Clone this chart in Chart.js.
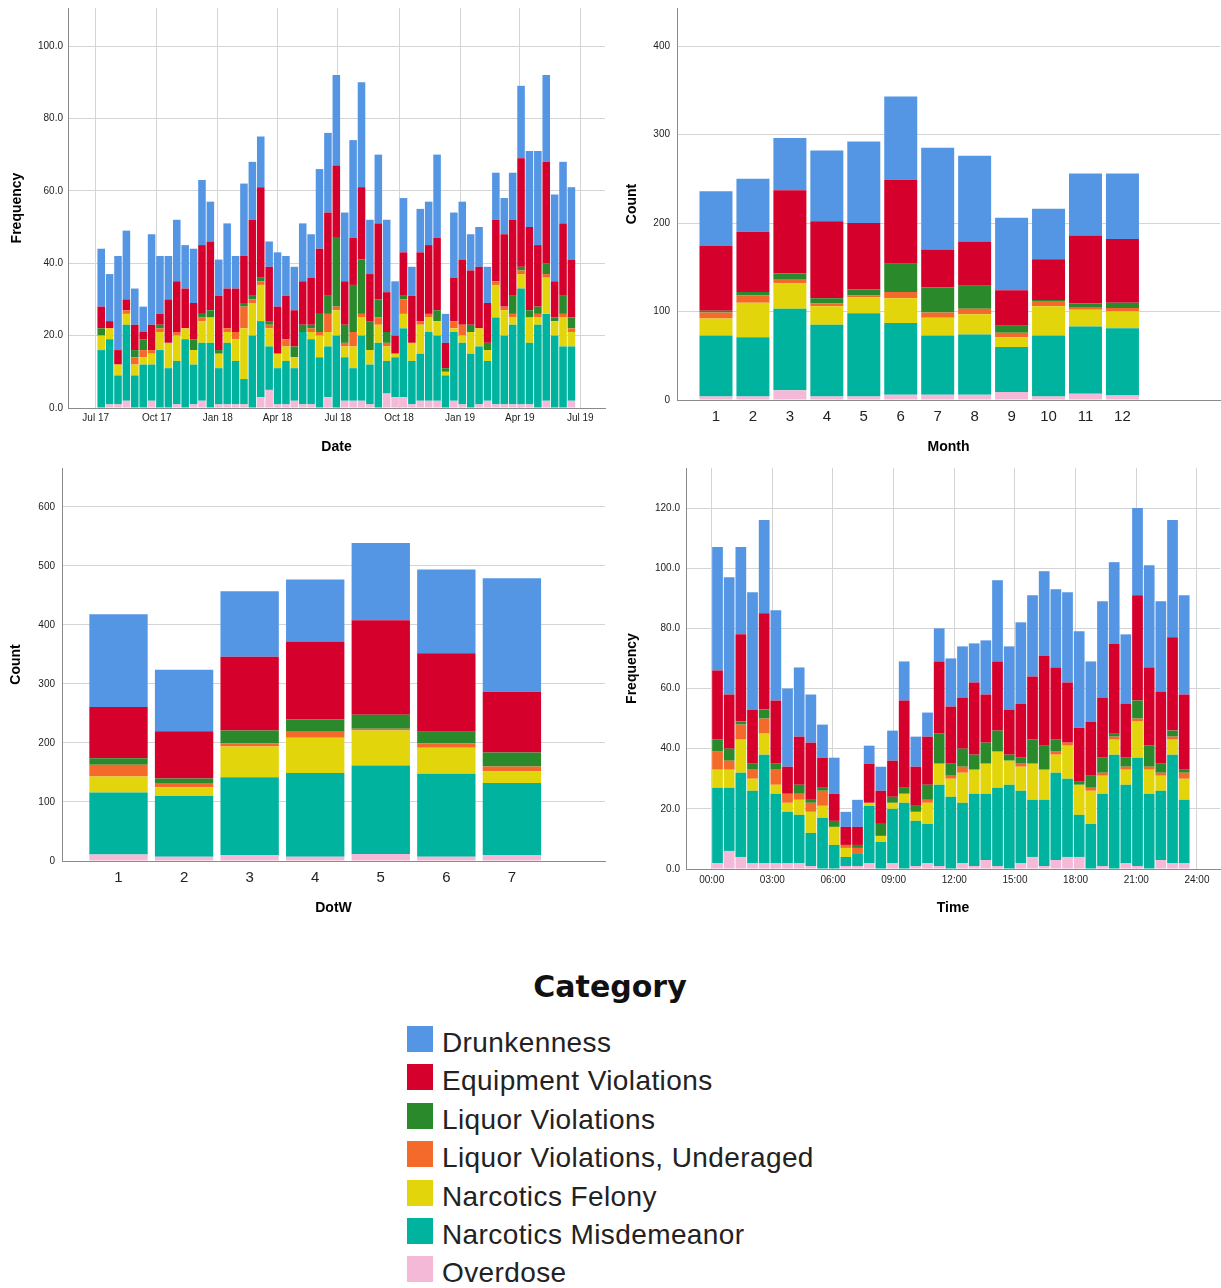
<!DOCTYPE html>
<html>
<head>
<meta charset="utf-8">
<script src="https://cdn.jsdelivr.net/npm/chart.js@4.4.1/dist/chart.umd.min.js"></script>
<style>
  body { margin:0; background:#fff; width:1221px; height:1288px; position:relative; overflow:hidden;
         font-family:"Liberation Sans", Arial, sans-serif; }
  canvas { position:absolute; }
  #legendTitle { position:absolute; left:0; width:1220px; top:969px; text-align:center;
                 font:bold 30px/36px "DejaVu Sans", sans-serif; color:#111; }
  .row { position:absolute; left:407px; height:38px; font-size:28px; line-height:38.4px;
         letter-spacing:0.4px; color:#222; white-space:nowrap; }
  .sw { position:absolute; left:0; top:2px; width:26px; height:26px; }
  .lab { position:absolute; left:35px; top:0; }
</style>
</head>
<body>
<canvas id="dateChart"  width="606" height="462" style="left:0;top:0"></canvas>
<canvas id="monthChart" width="606" height="462" style="left:615px;top:0"></canvas>
<canvas id="dowChart"   width="606" height="462" style="left:0;top:460px"></canvas>
<canvas id="timeChart"  width="606" height="462" style="left:615px;top:460px"></canvas>
<div id="legendTitle">Category</div>
<div id="legend"></div>

<script>
// --- categorias (orden de la leyenda) ---
const CATEGORIES = ['Drunkenness', 'Equipment Violations', 'Liquor Violations',
  'Liquor Violations, Underaged', 'Narcotics Felony', 'Narcotics Misdemeanor', 'Overdose'];
const COLORS = ['#5596e4', '#d5002c', '#2a8a2b', '#f36a2a', '#e2d50b', '#00b39e', '#f5b9d8'];

// --- Date: bins de ~12.65 dias desde 1 jul 2017 ---
const DATE_BIN_START = 2;
const DATE_BIN_DAYS = 12.65;
const DATE_TICK_DAYS = [0, 92, 184, 274, 365, 457, 549, 639, 730];
const DATE_TICK_LABELS = ['Jul 17', 'Oct 17', 'Jan 18', 'Apr 18', 'Jul 18', 'Oct 18', 'Jan 19', 'Apr 19', 'Jul 19'];
const dateDrunk  = [16,13,26,19,10,7,25,16,12,17, 12,15,18,11,10,18,9,20,16,14, 7,15,11,12,16,12,22,22,25,19, 27,29,15,19,20,15,15,8,12,12, 23,8,18,16,10,11,10,13,10,13, 20,21,26,24,24,17,20];
const dateEquip  = [6,2,4,3,7,2,7,3,12,14, 11,10,19,19,15,11,12,13,21,25, 15,13,12,10,12,13,18,23,20,12, 13,20,13,21,11,5,12,13,19,19, 20,7,12,18,15,17,11,17,20,21, 30,23,17,28,10,20,16];
const dateLiquor = [2,0,0,0,2,3,0,1,0,0, 0,3,1,2,1,0,0,1,1,1, 1,0,0,3,2,1,5,5,19,5, 13,15,8,5,3,0,1,0,0,0, 3,1,0,0,2,0,2,0,0,5, 1,2,2,3,1,5,3];
const dateUnder  = [0,0,0,1,2,2,1,1,0,1, 0,0,1,0,0,1,2,6,1,1, 1,0,2,0,0,1,1,5,1,1, 4,1,0,2,1,0,4,0,1,1, 0,0,2,3,0,0,0,1,1,1, 1,0,1,1,0,1,1];
const dateFelony = [4,3,3,3,3,2,3,5,7,7, 3,4,6,7,4,3,6,14,9,10, 5,4,4,3,0,2,6,4,7,3, 6,5,4,5,4,1,4,5,8,4, 4,1,1,2,6,5,3,9,7,2, 4,7,2,10,4,8,4];
const dateMisd   = [16,18,8,21,9,12,10,16,11,12, 19,11,16,18,10,17,12,7,20,21, 12,10,12,9,20,18,14,14,20,12, 9,18,11,18,9,11,19,12,13,19, 18,9,19,17,15,16,11,24,19,22, 32,17,23,24,20,17,15];
const dateOver   = [0,1,1,2,0,0,2,0,0,1, 0,1,2,0,1,1,1,1,0,3, 5,1,1,2,1,1,0,3,0,2, 2,2,1,0,4,3,3,1,2,2, 2,0,2,1,0,1,2,1,1,1, 1,1,0,2,0,0,2];
const DATE_Y_TICKS = [0, 20, 40, 60, 80, 100];
const DATE_Y_LABELS = ['0.0', '20.0', '40.0', '60.0', '80.0', '100.0'];

// --- Month ---
const MONTHS = [1,2,3,4,5,6,7,8,9,10,11,12];
const monthDrunk  = [62,60,59,80,92,94,115,97,82,57,70,74];
const monthEquip  = [73,68,94,87,75,95,43,50,40,46,77,72];
const monthLiquor = [2,4,7,6,7,32,28,26,8,2,4,6];
const monthUnder  = [7,8,4,3,2,7,6,6,5,5,3,4];
const monthFelony = [19,39,29,21,18,28,20,23,11,33,19,19];
const monthMisd   = [69,67,92,81,94,81,67,68,51,69,76,76];
const monthOver   = [4,4,11,4,4,6,6,6,9,4,7,5];
const MONTH_Y_TICKS = [0, 100, 200, 300, 400];

// --- DotW ---
const DAYS = [1,2,3,4,5,6,7];
const dowDrunk  = [157,104,111,105,131,142,192];
const dowEquip  = [87,80,125,132,160,133,103];
const dowLiquor = [11,8,22,21,24,20,24];
const dowUnder  = [20,7,5,10,3,7,8];
const dowFelony = [27,15,52,60,59,44,20];
const dowMisd   = [105,103,132,142,150,141,122];
const dowOver   = [11,7,10,7,12,7,10];
const DOW_Y_TICKS = [0, 100, 200, 300, 400, 500, 600];

// --- Time: bins de ~0.577 h ---
const TIME_BIN_HOURS = 0.577;
const TIME_TICK_HOURS = [0, 3, 6, 9, 12, 15, 18, 21, 24];
const TIME_TICK_LABELS = ['00:00', '03:00', '06:00', '09:00', '12:00', '15:00', '18:00', '21:00', '24:00'];
const timeDrunk  = [41,39,29,39,31,30,26,23,16,11, 12,5,9,6,8,10,13,10,8,11, 16,17,13,18,27,21,27,27,28,26, 30,32,20,32,27,23,29,34,30,39, 33];
const timeEquip  = [23,18,29,18,32,21,9,16,19,10, 9,6,6,13,11,12,29,13,16,24, 19,17,24,16,23,15,18,21,30,24, 20,18,18,20,30,18,35,26,24,31, 25];
const timeLiquor = [4,4,1,2,3,2,0,3,1,1, 2,0,1,0,4,2,2,2,5,10, 4,6,5,7,7,2,2,8,8,4, 0,1,4,5,1,3,6,7,3,2, 1];
const timeUnder  = [6,3,5,3,5,5,3,2,3,5, 0,1,2,0,0,0,0,0,1,0, 1,2,0,0,0,0,1,0,0,1, 1,0,1,1,1,1,1,1,1,1, 2];
const timeFelony = [6,6,11,4,7,3,3,5,7,4, 6,3,0,1,2,2,3,3,7,7, 6,10,8,10,12,8,8,12,10,6, 11,10,11,6,5,5,12,8,5,5, 7];
const timeMisd   = [25,21,28,24,36,23,17,16,11,17, 8,3,4,19,9,18,22,15,13,27, 24,20,24,22,26,28,24,19,22,29, 26,14,15,24,38,26,36,25,23,36, 21];
const timeOver   = [2,6,4,2,2,2,2,2,1,0, 0,1,1,2,0,2,0,1,2,1, 0,2,1,3,1,0,2,4,1,3, 4,4,0,1,0,2,1,0,3,2, 2];
const TIME_Y_TICKS = [0, 20, 40, 60, 80, 100, 120];
const TIME_Y_LABELS = ['0.0', '20.0', '40.0', '60.0', '80.0', '100.0', '120.0'];

const GRID = '#d4d4d4';
const AXIS = '#8a8a8a';
const TICK = '#222';
Chart.defaults.font.family = '"Liberation Sans", Arial, sans-serif';

function stacked(id, o) {
  // primera serie abajo: Overdose ... Drunkenness
  const datasets = CATEGORIES.map((name, k) => ({
    label: name,
    data: o.series[k],
    backgroundColor: COLORS[k],
    borderWidth: 0,
    barPercentage: 1,
    categoryPercentage: o.barFrac
  })).reverse();

  return new Chart(document.getElementById(id), {
    type: 'bar',
    data: { labels: o.xs, datasets },
    options: {
      responsive: false,
      animation: false,
      layout: { padding: { top: 8, right: 1, left: 0, bottom: 0 } },
      plugins: { legend: { display: false }, tooltip: { enabled: false } },
      scales: {
        x: {
          type: 'linear', stacked: true, offset: false, bounds: 'data',
          min: o.xMin, max: o.xMax,
          afterBuildTicks: s => { s.ticks = o.xTicks.map(v => ({ value: v })); },
          afterFit: s => { s.height = o.xAxisH; s.paddingLeft = 0; s.paddingRight = 0; },
          grid: { display: o.xGrid, offset: false, color: GRID, drawTicks: false },
          border: { color: AXIS },
          ticks: { autoSkip: false, maxRotation: 0, padding: o.xPad, color: TICK,
                   font: { size: o.xFont }, callback: (v, i) => o.xLabels[i] },
          title: { display: true, text: o.xTitle, color: '#000',
                   font: { size: 14, weight: 'bold' }, padding: { top: 0, bottom: o.xTitlePad } }
        },
        y: {
          stacked: true, min: 0, max: o.yMax, bounds: 'data',
          afterBuildTicks: s => { s.ticks = o.yTicks.map(v => ({ value: v })); },
          afterFit: s => { s.width = o.yAxisW; s.paddingTop = 0; s.paddingBottom = 0; },
          grid: { color: GRID, drawTicks: false },
          border: { color: AXIS },
          ticks: { padding: o.yPad, color: TICK, font: { size: 10 },
                   callback: (v, i) => o.yLabels[i] },
          title: { display: true, text: o.yTitle, color: '#000',
                   font: { size: 14, weight: 'bold' }, padding: { top: o.yTitlePad, bottom: 0 } }
        }
      }
    }
  });
}

stacked('dateChart', {
  xs: dateDrunk.map((_, i) => DATE_BIN_START + DATE_BIN_DAYS * (i + 0.5)),
  series: [dateDrunk, dateEquip, dateLiquor, dateUnder, dateFelony, dateMisd, dateOver],
  barFrac: 0.9,
  xMin: -41.7, xMax: 767.3, xTicks: DATE_TICK_DAYS, xLabels: DATE_TICK_LABELS,
  xGrid: true, xFont: 10, xPad: 4, xAxisH: 54, xTitle: 'Date', xTitlePad: 6.6,
  yMax: 110.5, yTicks: DATE_Y_TICKS, yLabels: DATE_Y_LABELS,
  yAxisW: 68, yPad: 5, yTitle: 'Frequency', yTitlePad: 8.6
});

stacked('monthChart', {
  xs: MONTHS,
  series: [monthDrunk, monthEquip, monthLiquor, monthUnder, monthFelony, monthMisd, monthOver],
  barFrac: 0.893,
  xMin: -0.055, xMax: 14.64, xTicks: MONTHS, xLabels: MONTHS.map(String),
  xGrid: false, xFont: 15, xPad: 8, xAxisH: 62, xTitle: 'Month', xTitlePad: 6.6,
  yMax: 443, yTicks: MONTH_Y_TICKS, yLabels: MONTH_Y_TICKS.map(String),
  yAxisW: 62, yPad: 7, yTitle: 'Count', yTitlePad: 8.6
});

stacked('dowChart', {
  xs: DAYS,
  series: [dowDrunk, dowEquip, dowLiquor, dowUnder, dowFelony, dowMisd, dowOver],
  barFrac: 0.89,
  xMin: 0.138, xMax: 8.42, xTicks: DAYS, xLabels: DAYS.map(String),
  xGrid: false, xFont: 15, xPad: 8, xAxisH: 61, xTitle: 'DotW', xTitlePad: 5.6,
  yMax: 666, yTicks: DOW_Y_TICKS, yLabels: DOW_Y_TICKS.map(String),
  yAxisW: 62, yPad: 7, yTitle: 'Count', yTitlePad: 7.6
});

stacked('timeChart', {
  xs: timeDrunk.map((_, i) => TIME_BIN_HOURS * (i + 0.5)),
  series: [timeDrunk, timeEquip, timeLiquor, timeUnder, timeFelony, timeMisd, timeOver],
  barFrac: 0.92,
  xMin: -1.27, xMax: 25.14, xTicks: TIME_TICK_HOURS, xLabels: TIME_TICK_LABELS,
  xGrid: true, xFont: 10, xPad: 5, xAxisH: 53, xTitle: 'Time', xTitlePad: 5.6,
  yMax: 133.3, yTicks: TIME_Y_TICKS, yLabels: TIME_Y_LABELS,
  yAxisW: 71, yPad: 6, yTitle: 'Frequency', yTitlePad: 8.6
});

// Leyenda comun
const legendEl = document.getElementById('legend');
CATEGORIES.forEach((name, k) => {
  const row = document.createElement('div');
  row.className = 'row';
  row.style.top = (1024 + k * 38.4) + 'px';
  row.innerHTML = `<div class="sw" style="background:${COLORS[k]}"></div><div class="lab">${name}</div>`;
  legendEl.appendChild(row);
});
</script>
</body>
</html>
